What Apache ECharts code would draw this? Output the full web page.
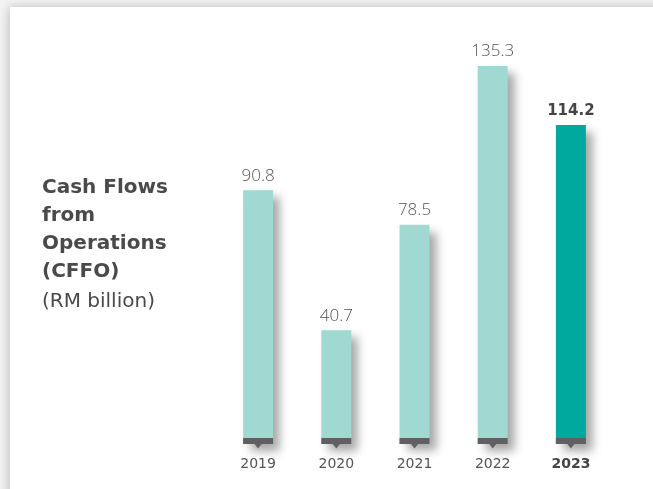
<!DOCTYPE html>
<html><head><meta charset="utf-8">
<script src="https://cdn.jsdelivr.net/npm/echarts@6/dist/echarts.min.js"></script>
<style>html,body{margin:0;padding:0;background:#fff}#c{width:653px;height:489px}</style>
</head><body><div id="c"></div>
<script>
const years = ['2019', '2020', '2021', '2022', '2023'];
const cffo = [90.8, 40.7, 78.5, 135.3, 114.2];
const titleLines = ['Cash Flows', 'from', 'Operations', '(CFFO)'];
const unitLine = '(RM billion)';

const light = '#9fd9d1', dark = '#00a99d', ink = '#4a4a4c';
const last = years.length - 1;
const titleFont = '"DejaVu Sans", "Noto Sans", sans-serif';
const numFont = '"Open Sans", "Noto Sans", sans-serif';

const chart = echarts.init(document.getElementById('c'), null, {renderer: 'canvas'});
const graphics = [
  {type: 'rect', shape: {x: 0, y: 0, width: 653, height: 489}, style: {fill: '#f3f3f3'}, z: -10, silent: true},
  {type: 'rect', shape: {x: 10, y: 7, width: 700, height: 520}, style: {fill: '#fff', shadowBlur: 10, shadowColor: 'rgba(0,0,0,0.22)', shadowOffsetX: -1, shadowOffsetY: 0}, z: -9, silent: true}
];
titleLines.forEach((t, i) => graphics.push({
  type: 'text', left: 42, top: 178 + i * 28, z: 5,
  style: {text: t, font: 'bold 20px ' + titleFont, fill: ink}
}));
graphics.push({type: 'text', left: 42, top: 178 + 4 * 28 + 2, z: 5,
  style: {text: unitLine, font: '20px ' + titleFont, fill: ink}});

chart.setOption({
  animation: false,
  graphic: graphics,
  grid: {left: 219, right: 43, top: 25, bottom: 45},
  xAxis: {
    type: 'category', data: years,
    axisLine: {show: false}, axisTick: {show: false},
    axisLabel: {
      interval: 0, hideOverlap: false,
      margin: 13, color: '#555', fontSize: 14, fontFamily: titleFont,
      formatter: (v, i) => i === last ? '{b|' + v + '}' : v,
      rich: {b: {fontWeight: 'bold', fontSize: 14, color: '#444', fontFamily: titleFont}}
    }
  },
  yAxis: {type: 'value', min: 0, max: 150, show: false, splitLine: {show: false}},
  series: [
    {
      type: 'bar', barWidth: 30,
      data: cffo.map((v, i) => ({
        value: v,
        itemStyle: {color: i === last ? dark : light},
        label: i === last ? {fontWeight: 'bold', color: '#444', fontFamily: titleFont, fontSize: 15} : {}
      })),
      itemStyle: {shadowBlur: 9, shadowColor: 'rgba(0,0,0,0.35)', shadowOffsetX: 7, shadowOffsetY: 7},
      label: {show: true, position: 'top', distance: 6, color: '#555', fontSize: 17, fontWeight: 300,
        fontFamily: numFont, formatter: p => p.value.toFixed(1)}
    },
    {
      type: 'custom', z: 10,
      data: cffo.map((v, i) => [i, 0]),
      renderItem: (params, api) => {
        const p = api.coord([api.value(0), 0]);
        const w = 30;
        return {type: 'group', children: [
          {type: 'rect', shape: {x: p[0] - w / 2, y: p[1] - 6, width: w, height: 6}, style: {fill: '#606062'}},
          {type: 'polygon', shape: {points: [[p[0] - 3.5, p[1]], [p[0] + 3.5, p[1]], [p[0], p[1] + 4.5]]}, style: {fill: '#606062'}}
        ]};
      }
    }
  ]
});
</script></body></html>
